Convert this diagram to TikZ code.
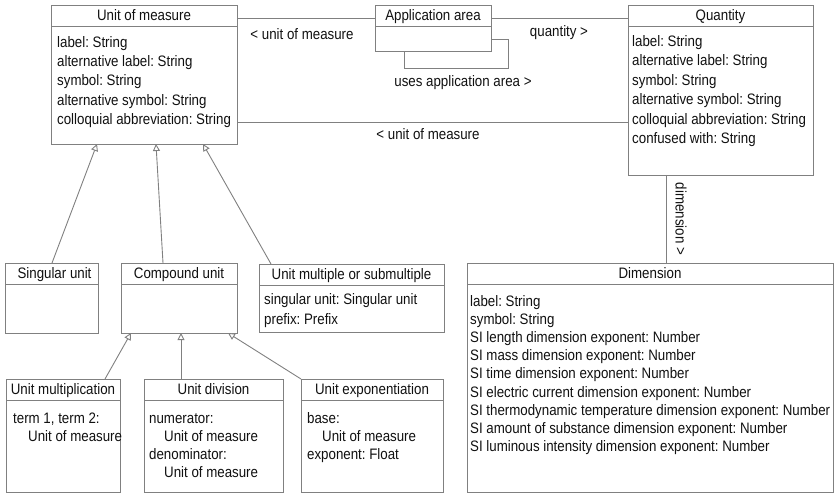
\documentclass[tikz,border=0pt]{standalone}
\usepackage{fontspec}
\setmainfont{Liberation Sans}
\usetikzlibrary{arrows.meta}
\definecolor{linegray}{HTML}{808080}
\definecolor{txt}{HTML}{111111}
\newcommand{\umfont}{\fontsize{13.3}{16}\selectfont\frenchspacing}
\newcommand{\sy}[1]{\scalebox{1}[1.14]{#1}}
\tikzset{
  cls/.style={draw=linegray, line width=0.9pt, fill=white, inner sep=0pt, outer sep=0pt, anchor=north west},
  ttl/.style={anchor=base, inner sep=0pt, text=txt, font=\umfont},
  attr/.style={anchor=base west, inner sep=0pt, text=txt, font=\umfont},
  conn/.style={draw=linegray, line width=0.9pt},
  gen/.style={conn, -{Triangle[open, length=7pt, width=7pt, fill=white]}},
  lbl/.style={inner sep=0pt, text=txt, font=\umfont}
}
\begin{document}
\begin{tikzpicture}[x=1pt,y=-1pt]
\useasboundingbox (0,0) rectangle (835,494);
% boxes
\node[cls, minimum width=186pt, minimum height=139pt] (uom) at (51,5) {};
\node[cls, minimum width=116pt, minimum height=46pt] (app) at (375,5) {};
\node[cls, minimum width=185pt, minimum height=170pt] (qty) at (628,5) {};
\node[cls, minimum width=93pt, minimum height=70pt] (sing) at (5,263) {};
\node[cls, minimum width=116pt, minimum height=70pt] (comp) at (121,263) {};
\node[cls, minimum width=185pt, minimum height=68pt] (mult) at (259,264) {};
\node[cls, minimum width=366pt, minimum height=229.5pt] (dim) at (467,263) {};
\node[cls, minimum width=114pt, minimum height=113.5pt] (umul) at (6,379) {};
\node[cls, minimum width=139pt, minimum height=113.5pt] (udiv) at (144,379) {};
\node[cls, minimum width=142pt, minimum height=113.5pt] (uexp) at (301,379) {};
% dividers
\foreach \n in {uom,app,qty,sing,comp,mult,dim,umul,udiv,uexp}
  \draw[conn] ([yshift=-21.5pt]\n.north west) -- ([yshift=-21.5pt]\n.north east);
% titles
\node[ttl] (uom-t) at ([yshift=-15.5pt]uom.north) {\sy{Unit of measure}};
\node[ttl] (app-t) at ([yshift=-15.5pt]app.north) {\sy{Application area}};
\node[ttl] (qty-t) at ([yshift=-15.5pt]qty.north) {\sy{Quantity}};
\node[ttl] (sing-t) at ([xshift=3pt,yshift=-15.5pt]sing.north) {\sy{Singular unit}};
\node[ttl] (comp-t) at ([yshift=-15.5pt]comp.north) {\sy{Compound unit}};
\node[ttl] (mult-t) at ([yshift=-15.5pt]mult.north) {\sy{Unit multiple or submultiple}};
\node[ttl] (dim-t) at ([yshift=-15.5pt]dim.north) {\sy{Dimension}};
\node[ttl] (umul-t) at ([yshift=-15.5pt]umul.north) {\sy{Unit multiplication}};
\node[ttl] (udiv-t) at ([yshift=-15.5pt]udiv.north) {\sy{Unit division}};
\node[ttl] (uexp-t) at ([yshift=-15.5pt]uexp.north) {\sy{Unit exponentiation}};
% attributes
\foreach \t [count=\i] in {label: String, alternative label: String, symbol: String, alternative symbol: String, colloquial abbreviation: String}
  \node[attr] (uom-a\i) at (57, 47.5+19.25*\i-19.25) {\sy{\t}};
\foreach \t [count=\i] in {label: String, alternative label: String, symbol: String, alternative symbol: String, colloquial abbreviation: String, confused with: String}
  \node[attr] (qty-a\i) at (632, 46.5+19.4*\i-19.4) {\sy{\t}};
\node[attr] (mult-a1) at (264,304.5) {\sy{singular unit: Singular unit}};
\node[attr] (mult-a2) at (264,324.5) {\sy{prefix: Prefix}};
\foreach \t [count=\i] in {label: String, symbol: String, SI length dimension exponent: Number, SI mass dimension exponent: Number, SI time dimension exponent: Number, SI electric current dimension exponent: Number, SI thermodynamic temperature dimension exponent: Number, SI amount of substance dimension exponent: Number, SI luminous intensity dimension exponent: Number}
  \node[attr] (dim-a\i) at (470, 306.5+18.1*\i-18.1) {\sy{\t}};
\node[attr] (umul-a1) at (13,423.5) {\sy{term 1, term 2:}};
\node[attr] (umul-a2) at (28,441.5) {\sy{Unit of measure}};
\node[attr] (udiv-a1) at (149,423.5) {\sy{numerator:}};
\node[attr] (udiv-a2) at (164,441.5) {\sy{Unit of measure}};
\node[attr] (udiv-a3) at (149,459.5) {\sy{denominator:}};
\node[attr] (udiv-a4) at (164,477.5) {\sy{Unit of measure}};
\node[attr] (uexp-a1) at (307,423.5) {\sy{base:}};
\node[attr] (uexp-a2) at (322,441.5) {\sy{Unit of measure}};
\node[attr] (uexp-a3) at (307,459.5) {\sy{exponent: Float}};
% associations
\draw[conn] ([yshift=-13pt]uom.north east) -- ([yshift=-13pt]app.north west);
\draw[conn] ([yshift=-13pt]app.north east) -- ([yshift=-13pt]qty.north west);
\draw[conn] ([yshift=-117pt]uom.north east) -- ([yshift=-117pt]qty.north west);
\draw[conn] ([yshift=-34pt]app.north east) -- ++(17,0) |- ([xshift=29pt,yshift=-17pt]app.south west) -- ([xshift=29pt]app.south west);
\draw[conn] ([xshift=38pt]qty.south west) -- ([xshift=38pt]qty.south west |- dim.north);
% association labels
\node[lbl] (l1) at (302,34) {\sy{< unit of measure}};
\node[lbl] (l2) at (559,33) {\sy{quantity >}};
\node[lbl] (l3) at (463,83) {\sy{uses application area >}};
\node[lbl] (l4) at (428,134) {\sy{< unit of measure}};
\node[lbl, rotate=-90] (l5) at (681,219) {\sy{dimension >}};
% generalizations
\draw[gen] ([xshift=47pt]sing.north west) -- ([xshift=46pt]uom.south west);
\draw[gen] ([xshift=42pt]comp.north west) -- ([xshift=105pt]uom.south west);
\draw[gen] ([xshift=12pt]mult.north west) -- ([xshift=152pt]uom.south west);
\draw[gen] ([xshift=99pt]umul.north west) -- ([xshift=10pt]comp.south west);
\draw[gen] ([xshift=37pt]udiv.north west) -- ([xshift=60pt]comp.south west);
\draw[gen] (uexp.north west) -- ([xshift=107pt]comp.south west);
\end{tikzpicture}
\end{document}
